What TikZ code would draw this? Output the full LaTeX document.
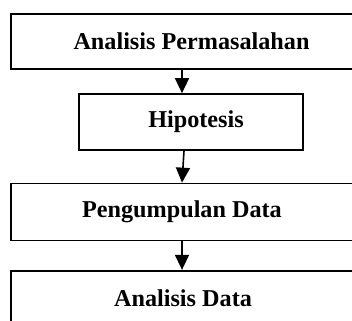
\documentclass[tikz,border=0pt]{standalone}
\usepackage{fontspec}
\setmainfont{Liberation Serif}
\usepackage{tikz}
\usetikzlibrary{arrows.meta,calc,positioning}

\begin{document}
\begin{tikzpicture}[x=1pt,y=-1pt,
    box/.style={draw, line width=1.7pt, inner sep=0pt, minimum height=56pt,
        font=\bfseries\fontsize{24.2}{29}\selectfont},
    arr/.style={line width=1.6pt, -{Triangle[width=14pt,length=15pt]}}]
    \useasboundingbox (0,0) rectangle (352,320);
    % boxes run past the right and bottom edge
    \node[box, minimum width=361pt, minimum height=55pt] (analisis) at (191.5,41.5) {Analisis Permasalahan};
    \node[box, minimum width=224pt] (hipotesis) at (191,122) {\hspace*{10pt}Hipotesis};
    \node[box, minimum width=342pt, minimum height=57pt] (pengumpulan) at (182,212) {Pengumpulan Data};
    \node[box, minimum width=344pt] (data) at (183,298.7) {Analisis Data};
    \draw[arr] ([xshift=-9pt]hipotesis.north |- analisis.south) -- ([xshift=-9pt]hipotesis.north);
    \draw[arr] ([xshift=-7pt]hipotesis.south) -- (pengumpulan.north);
    \draw[arr] (pengumpulan.south) -- (pengumpulan.south |- data.north);
\end{tikzpicture}
\end{document}
